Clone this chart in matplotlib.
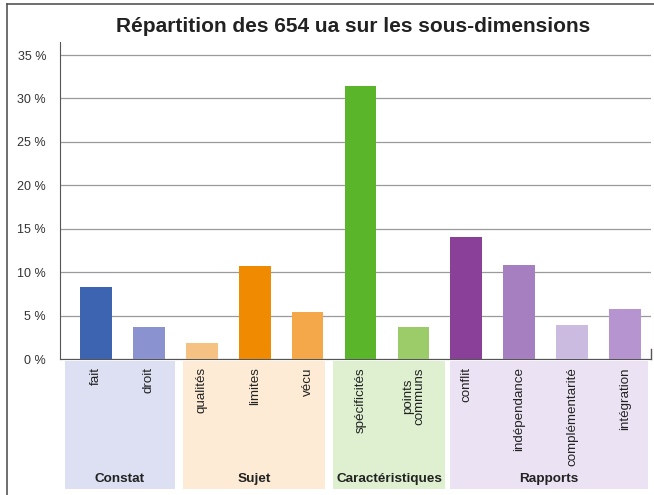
import matplotlib.pyplot as plt
from matplotlib.patches import Rectangle
from matplotlib.lines import Line2D

plt.rcParams['font.family'] = ['Liberation Sans', 'DejaVu Sans']

# data (percent of the 654 ua)
labels = ["fait", "droit", "qualités", "limites", "vécu", "spécificités",
          "points\ncommuns", "conflit", "indépendance", "complémentarité", "intégration"]
values = [8.3, 3.7, 1.85, 10.7, 5.4, 31.4, 3.7, 14.0, 10.8, 3.9, 5.8]
colors = ["#3d64b0", "#8a93cf", "#f6c283", "#f08a00", "#f4a84a", "#5ab52a",
          "#9ccc6a", "#8a3f98", "#a67fc0", "#cbbbe0", "#b594cf"]
groups = ["Constat", "Sujet", "Caractéristiques", "Rapports"]
group_bg = ["#dde0f3", "#fdebd5", "#def0d0", "#ebe2f3"]
yticks = [0, 5, 10, 15, 20, 25, 30, 35]

fig = plt.figure(figsize=(6.54, 4.95), dpi=100)
ax = fig.add_axes([60 / 654, 1 - 359 / 495, 591 / 654, 317 / 495])

x = list(range(len(labels)))
ax.bar(x, values, width=0.6, color=colors, zorder=3)

ax.set_xlim(-0.68, 10.49)
ax.set_ylim(0, 36.5)
ax.set_yticks(yticks)
ax.set_yticklabels([f"{t} %" for t in yticks], fontsize=9, color="#333333")
ax.tick_params(axis="y", length=0, pad=10)
ax.set_xticks(x)
ax.set_xticklabels(labels, rotation=90, fontsize=9.6, color="#222222",
                   va="top", ha="center", multialignment="center", linespacing=0.95)
ax.tick_params(axis="x", length=0, pad=6)
ax.grid(axis="y", color="#9a9a9a", linewidth=0.9, zorder=0)
for s in ["top", "right"]:
    ax.spines[s].set_visible(False)
ax.spines["left"].set_color("#555555")
ax.spines["bottom"].set_color("#555555")
# small end tick at right of the base line
ax.plot([10.49, 10.49], [0, 1.2], color="#555555", lw=1, clip_on=False)

# group background panels below the axis (edges in category units)
panel_edges = [(-0.59, 1.49), (1.64, 4.33), (4.48, 6.60), (6.69, 10.43)]
trans = ax.get_xaxis_transform()
for (x0, x1), name, bg in zip(panel_edges, groups, group_bg):
    ax.add_patch(Rectangle((x0, -0.41), x1 - x0, 0.405, transform=trans,
                           facecolor=bg, edgecolor="none", clip_on=False, zorder=0))
    ax.text((x0 + x1) / 2, -0.378, name, transform=trans, ha="center", va="center",
            fontsize=9.7, fontweight="bold", color="#222222")

fig.text(353 / 654, 1 - 32 / 495, "Répartition des 654 ua sur les sous-dimensions",
         ha="center", va="baseline", fontsize=15, fontweight="bold", color="#222222")

# frame (left and top edges visible)
fig.add_artist(Line2D([7 / 654, 7 / 654], [0, 1 - 4 / 495], color="#555555", lw=1.2))
fig.add_artist(Line2D([7 / 654, 1], [1 - 4 / 495, 1 - 4 / 495], color="#555555", lw=1.2))

plt.savefig("out.png", dpi=100)
